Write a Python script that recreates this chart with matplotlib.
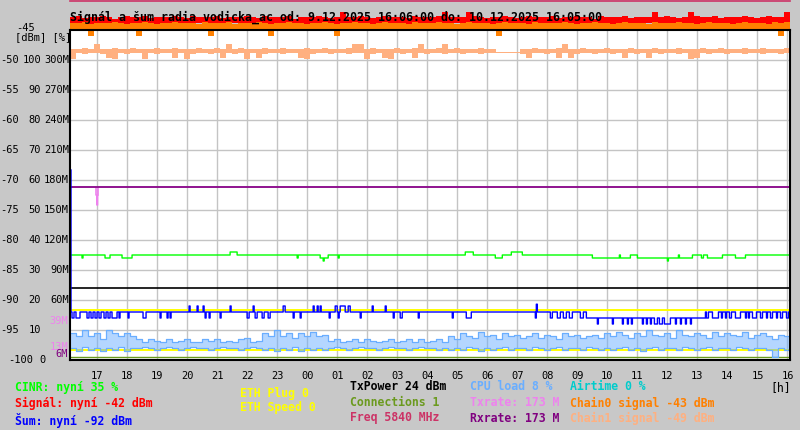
import numpy as np
import matplotlib
matplotlib.use("Agg")
import matplotlib.pyplot as plt
from matplotlib.transforms import blended_transform_factory

# ---- data (time in minutes after 9.12.2025 16:00) ----
START_MIN, END_MIN = 6, 1445
STEP_MIN = 12  # bucket length of the noisy series

# signal / chain levels as min-max per bucket (dBm)
signal_hi = [
    -42.8, -42.7, -43.0, -42.8, -42.9, -42.7, -42.8, -43.1, -42.8, -42.7,
    -42.9, -42.8, -42.7, -43.0, -42.8, -42.8, -42.9, -42.7, -42.8, -43.0,
    -42.7, -42.8, -42.9, -42.8, -42.7, -43.0, -42.8, -42.8, -42.9, -42.7,
    -42.8, -43.0, -42.7, -42.8, -42.9, -42.8, -42.7, -43.1, -42.8, -42.8,
    -42.9, -42.7, -42.8, -43.0, -42.8, -42.0, -42.8, -42.9, -42.7, -42.8,
    -43.0, -42.8, -42.7, -42.9, -42.8, -42.8, -43.0, -42.7, -42.8, -42.9,
    -42.8, -42.7, -42.0, -42.8, -42.9, -42.8, -42.0, -42.7, -42.8, -43.0,
    -42.8, -42.9, -42.7, -42.8, -43.0, -42.8, -42.7, -42.9, -42.8, -42.8,
    -42.7, -43.0, -42.8, -42.9, -42.7, -42.8, -42.8, -43.1, -42.7, -42.8,
    -42.9, -42.8, -42.7, -43.0, -42.8, -42.8, -42.9, -42.0, -42.8, -42.7,
    -42.8, -43.0, -42.8, -42.0, -42.7, -42.9, -42.8, -42.7, -43.0, -42.8,
    -42.8, -42.9, -42.7, -42.8, -43.0, -42.8, -42.7, -42.9, -42.8, -42.0,
]
signal_lo = [
    -44.1, -44.2, -43.9, -44.1, -44.2, -44.0, -44.1, -44.2, -43.9, -44.1,
    -44.0, -44.2, -44.1, -43.9, -44.1, -44.2, -44.0, -44.1, -44.2, -44.0,
    -44.1, -43.9, -44.2, -44.1, -44.0, -44.1, -44.2, -43.9, -44.1, -44.0,
    -44.2, -44.1, -44.0, -44.1, -43.9, -44.2, -44.1, -44.0, -44.1, -44.2,
    -43.9, -44.1, -44.0, -44.2, -44.1, -44.1, -43.9, -44.2, -44.0, -44.1,
    -44.2, -44.1, -43.9, -44.0, -44.1, -44.2, -44.0, -44.1, -43.9, -44.2,
    -44.1, -44.0, -44.1, -44.2, -43.9, -44.1, -44.0, -44.2, -44.1, -43.9,
    -44.1, -44.2, -44.0, -44.1, -43.9, -44.2, -44.1, -44.0, -44.1, -44.2,
    -43.9, -44.1, -44.0, -44.2, -44.1, -43.9, -44.1, -44.2, -44.0, -44.1,
    -44.2, -43.9, -44.1, -44.0, -44.2, -44.1, -43.9, -44.1, -44.2, -44.0,
    -44.1, -44.2, -43.9, -44.1, -44.0, -44.2, -44.1, -43.9, -44.1, -44.2,
    -44.0, -44.1, -44.2, -43.9, -44.1, -44.0, -44.2, -44.1, -43.9, -44.1,
]
chain0_hi = [
    -43.8, -43.9, -43.7, -44.0, -43.8, -43.8, -43.9, -43.7, -43.8, -44.0,
    -43.9, -43.8, -43.7, -43.8, -44.0, -43.9, -43.8, -43.7, -43.8, -43.9,
    -43.8, -44.0, -43.7, -43.8, -43.9, -43.8, -43.7, -44.0, -43.8, -43.8,
    -43.9, -43.7, -43.8, -44.0, -43.8, -43.9, -43.7, -43.8, -43.8, -44.0,
    -43.8, -43.9, -43.7, -43.8, -44.0, -43.8, -43.9, -43.7, -43.8, -43.9,
    -44.0, -43.8, -43.7, -43.8, -43.9, -43.8, -44.0, -43.7, -43.8, -43.9,
    -43.8, -43.7, -43.9, -43.8, -44.0, -43.8, -43.7, -43.9, -43.8, -43.8,
    -44.0, -43.8, -43.7, -43.9, -43.8, -43.8, -44.0, -43.7, -43.8, -43.9,
    -43.8, -43.9, -43.7, -43.8, -44.0, -43.8, -43.9, -43.7, -43.8, -43.8,
    -44.0, -43.8, -43.7, -43.9, -43.8, -43.8, -44.0, -43.7, -43.8, -43.9,
    -43.8, -43.7, -43.9, -43.8, -44.0, -43.8, -43.7, -43.9, -43.8, -43.8,
    -44.0, -43.8, -43.7, -43.9, -43.8, -43.8, -44.0, -43.7, -43.8, -43.7,
]
chain0_lo = [
    -44.9, -44.8, -44.9, -46.0, -44.9, -44.8, -44.9, -44.9, -44.8, -44.9,
    -44.9, -46.0, -44.8, -44.9, -44.9, -44.8, -44.9, -44.9, -44.8, -44.9,
    -44.9, -44.8, -44.9, -46.0, -44.9, -44.8, -44.9, -44.9, -44.8, -44.9,
    -44.9, -44.8, -44.9, -46.0, -44.9, -44.8, -44.9, -44.9, -44.8, -44.9,
    -44.9, -44.8, -44.9, -44.9, -46.0, -44.8, -44.9, -44.9, -44.8, -44.9,
    -44.9, -44.8, -44.9, -44.9, -44.8, -44.9, -44.9, -44.8, -44.9, -44.9,
    -44.8, -44.9, -44.9, -44.8, -44.9, -44.9, -44.8, -44.9, -44.9, -44.8,
    -44.9, -46.0, -44.9, -44.8, -44.9, -44.9, -44.8, -44.9, -44.9, -44.8,
    -44.9, -44.9, -44.8, -44.9, -44.9, -44.8, -44.9, -44.9, -44.8, -44.9,
    -44.9, -44.8, -44.9, -44.9, -44.8, -44.9, -44.9, -44.8, -44.9, -44.9,
    -44.8, -44.9, -44.9, -44.8, -44.9, -44.9, -44.8, -44.9, -44.9, -44.8,
    -44.9, -44.9, -44.8, -44.9, -44.9, -44.8, -44.9, -44.9, -46.0, -44.9,
]
chain1_hi = [
    -48.1, -48.2, -48.0, -48.1, -47.3, -48.2, -48.1, -48.0, -48.2, -48.1,
    -48.0, -48.2, -48.1, -48.1, -48.0, -48.2, -48.1, -48.0, -48.2, -48.1,
    -48.1, -48.0, -48.2, -48.1, -48.0, -48.2, -47.3, -48.1, -48.0, -48.2,
    -48.1, -48.1, -48.0, -48.2, -48.1, -48.0, -48.2, -48.1, -48.1, -48.0,
    -48.2, -48.1, -48.0, -48.2, -48.1, -48.1, -48.0, -47.3, -47.4, -48.1,
    -48.0, -48.2, -48.1, -48.1, -48.0, -48.2, -48.1, -48.0, -47.3, -48.1,
    -48.1, -48.0, -47.4, -48.1, -48.0, -48.2, -48.1, -48.1, -48.0, -48.2,
    -48.1, -48.7, -48.7, -48.7, -48.7, -48.1, -48.2, -48.0, -48.1, -48.2,
    -48.1, -48.0, -47.3, -48.1, -48.2, -48.0, -48.1, -48.1, -48.2, -48.0,
    -48.1, -48.2, -48.1, -48.0, -48.1, -48.2, -48.1, -48.0, -48.2, -48.1,
    -48.1, -48.0, -48.2, -48.1, -48.1, -48.0, -48.2, -48.1, -48.0, -48.2,
    -48.1, -48.1, -48.0, -48.2, -48.1, -48.0, -48.2, -48.1, -48.1, -48.0,
]
chain1_lo = [
    -49.8, -48.9, -49.0, -48.9, -48.8, -49.0, -49.7, -49.8, -48.9, -49.0,
    -48.9, -48.8, -49.8, -48.9, -49.0, -48.9, -48.8, -49.7, -48.9, -49.8,
    -49.0, -48.9, -48.8, -49.0, -48.9, -49.7, -48.9, -49.0, -48.8, -49.8,
    -48.9, -49.7, -49.0, -48.9, -48.8, -49.0, -48.9, -48.9, -49.7, -49.8,
    -49.0, -48.9, -48.8, -49.0, -48.9, -48.9, -49.0, -48.8, -48.9, -49.8,
    -49.0, -48.9, -49.7, -49.8, -48.9, -49.0, -48.8, -49.7, -48.9, -49.0,
    -48.9, -48.8, -49.0, -48.9, -48.9, -49.0, -48.8, -48.9, -49.0, -48.9,
    -48.8, -48.9, -48.9, -48.9, -48.9, -49.0, -49.7, -48.9, -48.8, -49.0,
    -48.9, -49.6, -48.9, -49.7, -49.0, -48.9, -48.8, -49.0, -48.9, -48.9,
    -49.0, -48.8, -49.7, -48.9, -49.0, -48.9, -49.7, -48.8, -49.0, -48.9,
    -48.9, -49.0, -48.8, -49.8, -49.6, -48.9, -49.0, -48.8, -48.9, -49.0,
    -48.9, -48.8, -49.0, -48.9, -48.9, -49.0, -48.8, -48.9, -49.0, -48.9,
]

# CPU load as min-max per bucket (%)
cpu_hi = [
    9, 8, 10, 8, 9, 7, 10, 9, 8, 9, 8,
    7, 6, 7, 6.5, 6, 7, 6, 6.5, 7, 6, 6, 7, 6.5, 7, 6, 6.5, 6, 7, 7.5, 6, 6.5,
    9, 8, 10, 8, 9, 7.5, 9, 8, 9.5, 8, 8.5,
    6.5, 7, 6, 6.5, 7, 6, 7, 6.5, 6, 6.5, 7, 6, 6.5, 7, 6, 7, 6, 6.5, 7, 6,
    8, 7, 9, 8, 7.5, 9.5, 8, 8.5, 7, 9, 8, 8.5, 7.5, 8, 9, 7.5, 8.5, 8, 7, 9, 8, 8.5, 7.5,
    8, 8.5, 7.5,
    9, 8, 9.5, 8.5, 7.5, 9, 8, 10, 8.5, 8, 9, 7.5, 10, 8.5, 8, 9, 8.5, 7.5, 9.5, 8, 9, 8.5,
    8, 9.5, 7.5, 8.5, 9, 8, 7, 8.5, 8,
]
cpu_lo = [
    4, 3, 4.5, 3.5, 4, 3, 4, 3.5, 4.5, 3, 4,
    4, 4.5, 4, 3.5, 4, 4.5, 4, 3.5, 4, 4.5, 4, 4, 3.5, 4, 4.5, 4, 4, 3.5, 4, 4.5, 4,
    3.5, 4, 3, 4, 3.5, 4.5, 3, 4, 3.5, 4, 3.5,
    4, 4.5, 4, 3.5, 4, 4.5, 4, 4, 3.5, 4, 4.5, 4, 4, 3.5, 4, 4.5, 4, 4, 3.5, 4,
    3.5, 4, 3.5, 4.5, 4, 3, 4, 3.5, 4, 4.5, 3.5, 4, 4, 3.5, 4.5, 4, 3.5, 4, 4.5, 3.5, 4, 4,
    3.5, 4.5, 4, 3.5,
    4, 3.5, 4, 4.5, 3.5, 4, 3, 4, 4.5, 3.5, 4, 4, 3.5, 4.5, 4, 3.5, 4, 4.5, 3.5, 4, 4, 3.5,
    4.5, 4, 3.5, 4, 4, 3.5, 1, 4, 3.5,
]

# noise (Šum): base levels + short excursions (start min, end min, dBm)
noise_level_min = [6, 8, 1050, 1282]
noise_level_dbm = [-68.3, -92, -93, -92]
noise_ev_start = [10, 18, 40, 48, 56, 64, 74, 82, 90, 104, 122, 152, 186, 200, 206,
                  276, 284, 306, 360, 376, 390, 402, 452, 466, 524, 542, 586, 652,
                  666, 702, 770, 798, 936, 966, 980, 992, 1004, 1026, 1038,
                  244, 260, 272, 326, 372, 432, 492, 500, 506, 536, 546, 562, 610,
                  636, 938,
                  1060, 1090, 1110, 1120, 1128, 1150, 1158, 1166, 1174, 1184, 1194,
                  1216, 1226, 1236, 1246, 1276, 1210,
                  1290, 1308, 1316, 1324, 1336, 1356, 1362, 1370, 1386, 1398, 1406,
                  1418, 1426, 1438]
noise_ev_end = [14, 26, 44, 52, 60, 68, 78, 86, 100, 106, 124, 158, 188, 202, 208,
                278, 286, 308, 364, 380, 394, 406, 454, 468, 526, 544, 588, 654,
                670, 704, 772, 808, 938, 970, 986, 998, 1010, 1032, 1050,
                246, 262, 274, 328, 374, 436, 494, 502, 508, 540, 556, 566, 612,
                638, 940,
                1062, 1092, 1112, 1122, 1130, 1152, 1160, 1168, 1180, 1190, 1206,
                1218, 1228, 1238, 1248, 1278, 1212,
                1302, 1310, 1318, 1328, 1346, 1358, 1364, 1378, 1390, 1400, 1410,
                1420, 1430, 1442]
noise_ev_dbm = [-93] * 39 + [-91] * 14 + [-90.7] + [-94] * 15 + [-92] + [-93] * 15

# CINR: base levels + excursions (%)
cinr_level_min = [6, 1050, 1250]
cinr_level_pct = [35, 34, 35]
cinr_ev_start = [30, 76, 110, 326, 460, 506, 512, 542, 796, 856, 888,
                 1104, 1126, 1200, 1222, 1268, 1280, 1336]
cinr_ev_end = [32, 86, 130, 340, 462, 522, 514, 544, 812, 870, 910,
               1106, 1140, 1202, 1224, 1272, 1310, 1356]
cinr_ev_pct = [34, 34, 34, 36, 34, 34, 33, 34, 36, 34, 36,
               35, 35, 33, 35, 34, 34, 34]

# rates in Mbit/s
txrate_level = 173
txrate_ev_start, txrate_ev_end, txrate_ev_m = [58, 60], [62, 61], [165, 155]
rxrate_level = 173

txpower_dbm = 24          # drawn on the % scale
connections = 1           # drawn on the % scale
airtime_pct = 0
freq_mhz = 5840
freq_axis_level = -40.2   # off-scale, above the plot
yellow_levels = [-91.7, -98.4]   # ETH plug / speed traces
marker_labels_m = [39, 13, 6]    # small M labels at the left edge

hour_labels = ["17", "18", "19", "20", "21", "22", "23", "00", "01", "02", "03", "04",
               "05", "06", "07", "08", "09", "10", "11", "12", "13", "14", "15", "16"]
dbm_rows = [-50, -55, -60, -65, -70, -75, -80, -85, -90, -95]
pct_rows = [100, 90, 80, 70, 60, 50, 40, 30, 20, 10]
m_rows = ["300M", "270M", "240M", "210M", "180M", "150M", "120M", "90M", "60M", ""]


def pct_axis(p):
    return -100 + np.asarray(p, dtype=float) * 0.5


def mbit_axis(m):
    return -100 + np.asarray(m, dtype=float) / 6.0


def sampled(values):
    t = START_MIN + STEP_MIN * np.arange(len(values))
    t = np.append(t, END_MIN)
    v = np.append(values, values[-1])
    return t / 60.0, v


def event_series(level_min, level_val, ev_start, ev_end, ev_val):
    t = np.arange(START_MIN, END_MIN + 1)
    v = np.full(len(t), np.nan)
    for m0, val in zip(level_min, level_val):
        v[t >= m0] = val
    for a, b, val in zip(ev_start, ev_end, ev_val):
        v[(t >= a) & (t < b)] = val
    return t / 60.0, v


def band(ax, lo, hi, color, z):
    t, l = sampled(lo)
    _, h = sampled(hi)
    ax.fill_between(t, l, h, step="post", color=color, lw=0, zorder=z, clip_on=False)


BG = "#c8c8c8"
MONO = "DejaVu Sans Mono"
plt.rcParams["font.family"] = [MONO]

fig = plt.figure(figsize=(8, 4.3), dpi=100, facecolor=BG)
ax = fig.add_axes([70 / 800, 70 / 430, 720 / 800, 330 / 430])
ax.set_facecolor("white")
ax.set_xlim(START_MIN / 60, END_MIN / 60)
ax.set_ylim(-100, -45)

ax.set_xticks(np.arange(1, 25))
ax.set_xticklabels(hour_labels, fontsize=7.5)
ax.set_yticks(np.arange(-95, -45, 5))
ax.set_yticklabels([])
ax.tick_params(length=0, pad=8)
ax.grid(True, color="#c4c4c4", lw=1.0, zorder=0)
for s in ax.spines.values():
    s.set_color("black")
    s.set_linewidth(1.5)
    s.set_zorder(10)

lw = 1.0
full_t = np.array([START_MIN, END_MIN]) / 60.0

# flat traces
for lvl in yellow_levels:
    ax.plot(full_t, [lvl, lvl], color="#ffff00", lw=1.4, zorder=2)
ax.plot(full_t, pct_axis([connections] * 2), color="#6b9a1e", lw=lw, zorder=2)
ax.plot(full_t, pct_axis([airtime_pct] * 2), color="#00cccc", lw=lw, zorder=2)
ax.plot(full_t, pct_axis([txpower_dbm] * 2), color="black", lw=1.2, zorder=2)
ax.plot(full_t, [freq_axis_level] * 2, color="#cc3366", lw=1.2, zorder=2, clip_on=False)

t, v = event_series([START_MIN], [txrate_level], txrate_ev_start, txrate_ev_end, txrate_ev_m)
ax.step(t, mbit_axis(v), where="post", color="#ee82ee", lw=1.2, zorder=3)
ax.plot(full_t, mbit_axis([rxrate_level] * 2), color="#800080", lw=1.2, zorder=3)

t, v = event_series(cinr_level_min, cinr_level_pct, cinr_ev_start, cinr_ev_end, cinr_ev_pct)
ax.step(t, pct_axis(v), where="post", color="#00ff00", lw=lw, zorder=3)

t, v = event_series(noise_level_min, noise_level_dbm, noise_ev_start, noise_ev_end, noise_ev_dbm)
ax.step(t, v, where="post", color="#0000ff", lw=lw, zorder=3)

# CPU: light band with ragged edges
CPU_COL = "#6aaeff"
t, lo = sampled(cpu_lo)
_, hi = sampled(cpu_hi)
ax.fill_between(t, pct_axis(lo), pct_axis(hi), step="post", color=CPU_COL, lw=0,
                alpha=0.5, zorder=3)
ax.step(t, pct_axis(hi), where="post", color=CPU_COL, lw=0.9, zorder=3)
ax.step(t, pct_axis(lo), where="post", color=CPU_COL, lw=0.9, zorder=3)

band(ax, chain1_lo, chain1_hi, "#ffb080", 4)
band(ax, signal_lo, signal_hi, "#ff0000", 4)
band(ax, chain0_lo, chain0_hi, "#ff8000", 5)

# left axis labels (three columns: dBm, %, Mbit)
tr = blended_transform_factory(fig.transFigure, ax.transData)
for d, p, m in zip(dbm_rows, pct_rows, m_rows):
    ax.text(0 / 800, d, str(d), transform=tr, fontsize=7.5, va="center", ha="left")
    ax.text(41 / 800, d, str(p), transform=tr, fontsize=7.5, va="center", ha="right")
    if m:
        ax.text(69 / 800, d, m, transform=tr, fontsize=7.5, va="center", ha="right")
ax.text(8 / 800, -100, "-100", transform=tr, fontsize=7.5, va="center", ha="left")
ax.text(46 / 800, -100, "0", transform=tr, fontsize=7.5, va="center", ha="right")
label_colors = ["#ee82ee", "#ee82ee", "#800080"]
for mv, c in zip(marker_labels_m, label_colors):
    ax.text(68 / 800, float(mbit_axis(mv)), f"{mv}M", transform=tr, fontsize=7.5,
            va="center", ha="right", color=c)
fig.text(35 / 800, 1 - 28 / 430, "-45", fontsize=7.5, va="center", ha="right")
fig.text(15 / 800, 1 - 37 / 430, "[dBm] [%]", fontsize=7.5, va="center", ha="left")

fig.text(70 / 800, 1 - 17 / 430,
         "Signál a šum radia vodicka_ac od: 9.12.2025 16:06:00 do: 10.12.2025 16:05:00",
         fontsize=8.35, fontweight="bold", va="center", ha="left", zorder=20)

legend = [
    ("CINR: nyní 35 %", "#00ff00", 15, 387),
    ("Signál: nyní -42 dBm", "#ff0000", 15, 403),
    ("Šum: nyní -92 dBm", "#0000ff", 15, 421),
    ("ETH Plug 0", "#ffff00", 240, 393),
    ("ETH Speed 0", "#ffff00", 240, 408),
    ("TxPower 24 dBm", "black", 350, 387),
    ("Connections 1", "#6b9a1e", 350, 403),
    (f"Freq {freq_mhz} MHz", "#cc3366", 350, 418),
    ("CPU load 8 %", CPU_COL, 470, 387),
    ("Txrate: 173 M", "#ee82ee", 470, 403),
    ("Rxrate: 173 M", "#800080", 470, 418),
    ("Airtime 0 %", "#00cccc", 570, 387),
    ("Chain0 signal -43 dBm", "#ff8000", 570, 403),
    ("Chain1 signal -49 dBm", "#ffb080", 570, 418),
    ("[h]", "black", 770, 388),
]
for txt, col, x, y in legend:
    fig.text(x / 800, 1 - y / 430, txt, color=col, fontsize=8.3,
             fontweight="bold" if txt != "[h]" else "normal", va="center", ha="left")

fig.savefig("out.png", dpi=100, facecolor=BG)
